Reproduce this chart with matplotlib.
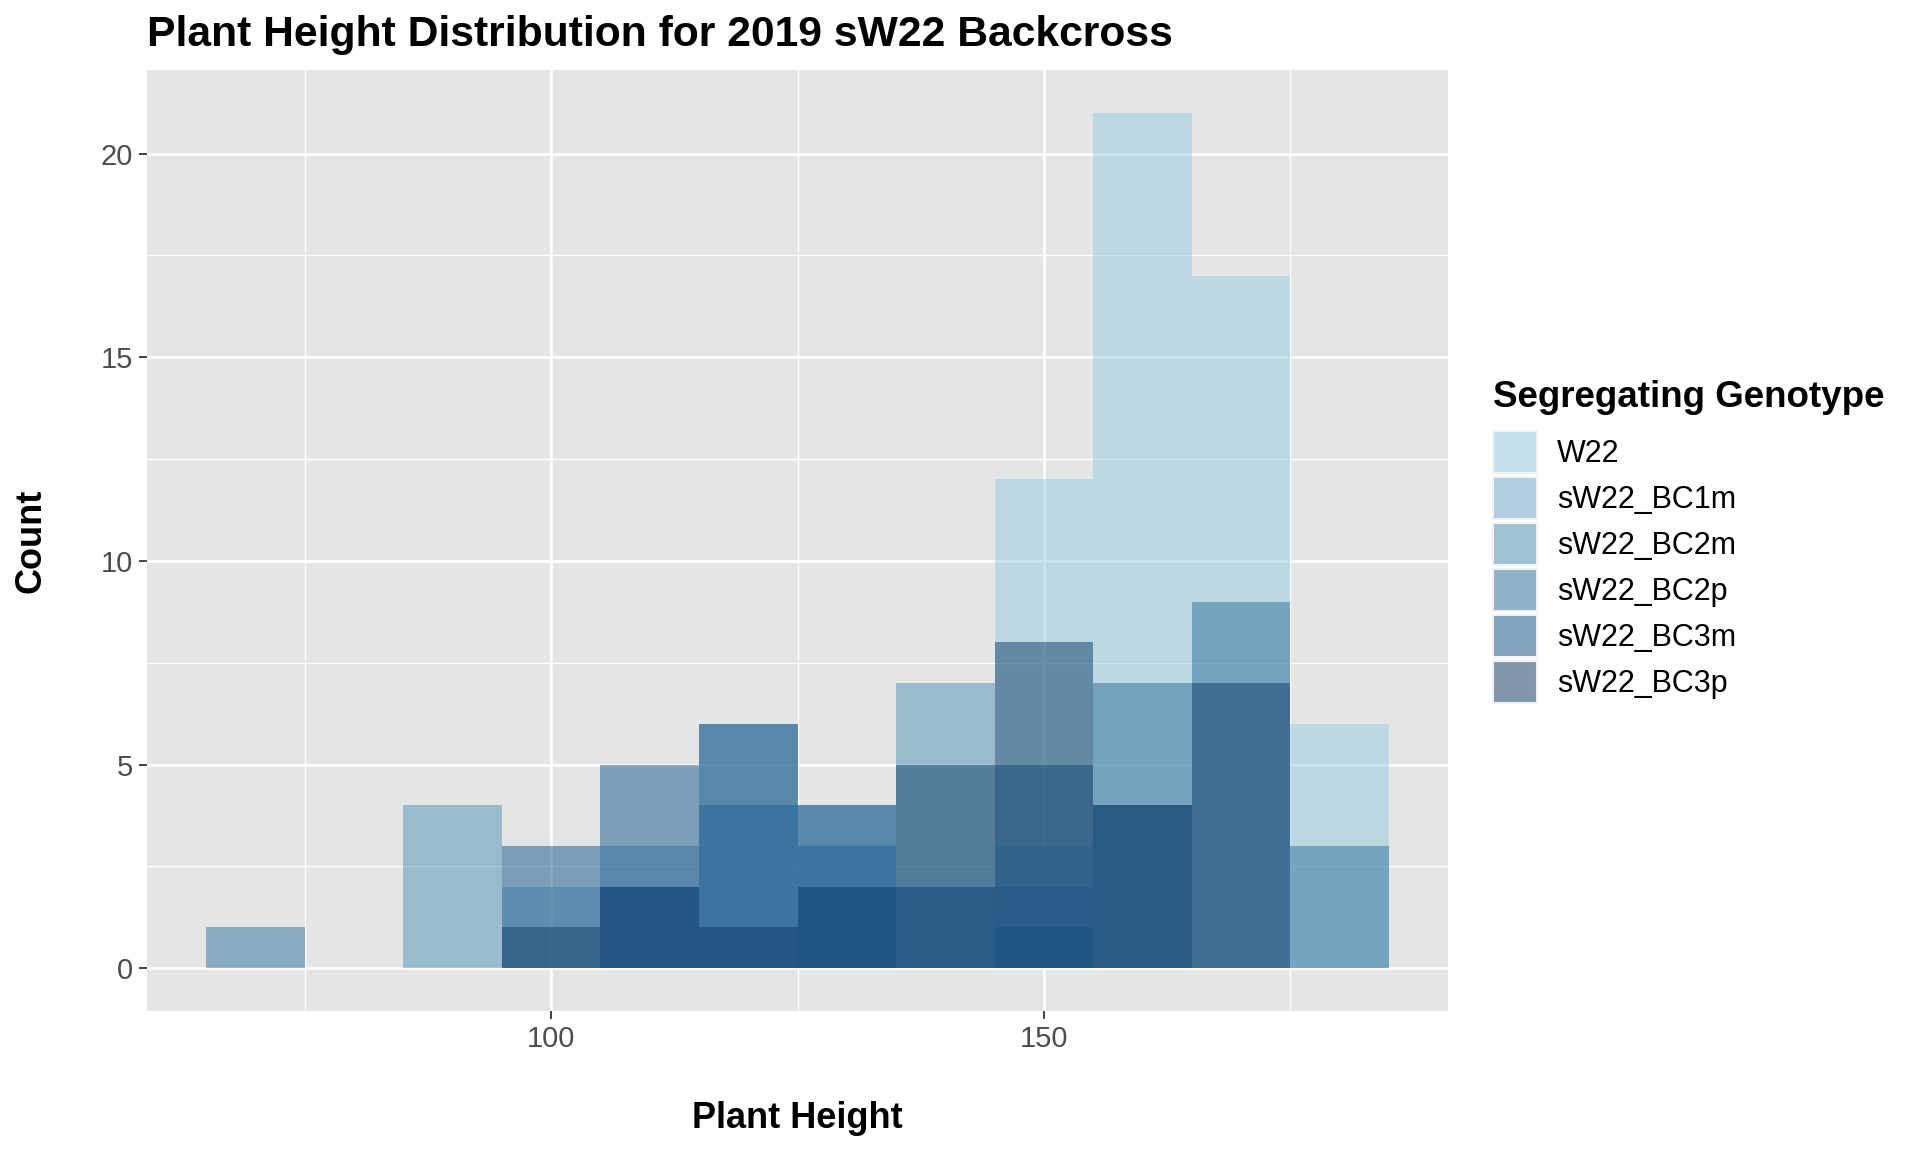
import matplotlib
matplotlib.use('Agg')
import matplotlib.pyplot as plt
from matplotlib.patches import Patch
from matplotlib.colors import to_rgb
import numpy as np

plt.rcParams['font.family'] = ['Liberation Sans', 'DejaVu Sans']

# histogram bins (width 10), counts
bin_centers = [70, 80, 90, 100, 110, 120, 130, 140, 150, 160, 170, 180]
genotypes = ['W22', 'sW22_BC1m', 'sW22_BC2m', 'sW22_BC2p', 'sW22_BC3m', 'sW22_BC3p']
colors = ['#93CCE3', '#70ACCE', '#5092B8', '#2E709E', '#165486', '#0E3C68']

w22 = [0, 0, 0, 0, 0, 0, 0, 0, 12, 21, 17, 6]
bc1m = [0, 0, 0, 2, 0, 0, 2, 2, 3, 0, 0, 0]
bc2m = [0, 0, 4, 0, 3, 6, 4, 7, 2, 0, 0, 0]
bc2p = [1, 0, 0, 0, 2, 4, 3, 0, 1, 7, 9, 3]
bc3m = [0, 0, 0, 3, 5, 6, 4, 2, 5, 4, 0, 0]
bc3p = [0, 0, 0, 1, 2, 1, 2, 5, 8, 4, 7, 0]
counts = [w22, bc1m, bc2m, bc2p, bc3m, bc3p]

fig = plt.figure(figsize=(19.2, 11.52), dpi=100)
ax = fig.add_axes([0.0766, 0.1224, 0.6776, 0.8168])
ax.set_facecolor('#E5E5E5')

for name, vals, col in zip(genotypes, counts, colors):
    ax.bar(bin_centers, vals, width=10, color=col, alpha=0.5, linewidth=0, label=name)

ax.set_xlim(59, 191)
ax.set_ylim(-1.05, 22.05)
ax.set_xticks([100, 150])
ax.set_xticks([75, 125, 175], minor=True)
ax.set_yticks([0, 5, 10, 15, 20])
ax.set_yticks([2.5, 7.5, 12.5, 17.5], minor=True)
ax.set_axisbelow(True)
ax.grid(which='major', color='white', linewidth=1.9)
ax.grid(which='minor', color='white', linewidth=1.0)
ax.tick_params(which='major', length=6, width=1.3, color='#333333',
               labelsize=21, labelcolor='#4D4D4D', pad=4)
ax.tick_params(which='minor', length=0)
for s in ax.spines.values():
    s.set_visible(False)

ax.set_xlabel('Plant Height', fontsize=26, fontweight='bold', labelpad=35)
ax.set_ylabel('Count', fontsize=26, fontweight='bold', labelpad=38)
fig.text(0.0766, 1 - 46 / 1152, 'Plant Height Distribution for 2019 sW22 Backcross',
         fontsize=30.7, fontweight='bold', ha='left', va='baseline')

# legend: title as its own text, keys at alpha 0.5 over the grey95 key background
fig.text(1493 / 1920, 1 - 407 / 1152, 'Segregating Genotype',
         fontsize=26.5, fontweight='bold', ha='left', va='baseline')
key_bg = np.array(to_rgb('#F2F2F2'))
handles = [Patch(facecolor=0.5 * np.array(to_rgb(c)) + 0.5 * key_bg,
                 edgecolor='#F2F2F2', linewidth=1.5, label=g)
           for g, c in zip(genotypes, colors)]
leg = fig.legend(handles=handles, loc='upper left',
                 bbox_to_anchor=(1493 / 1920, 1 - 431 / 1152),
                 fontsize=22, frameon=False, borderpad=0, borderaxespad=0,
                 handlelength=1.44, handleheight=1.738, labelspacing=0.13,
                 handletextpad=0.65)

fig.savefig('out.png', dpi=100)
